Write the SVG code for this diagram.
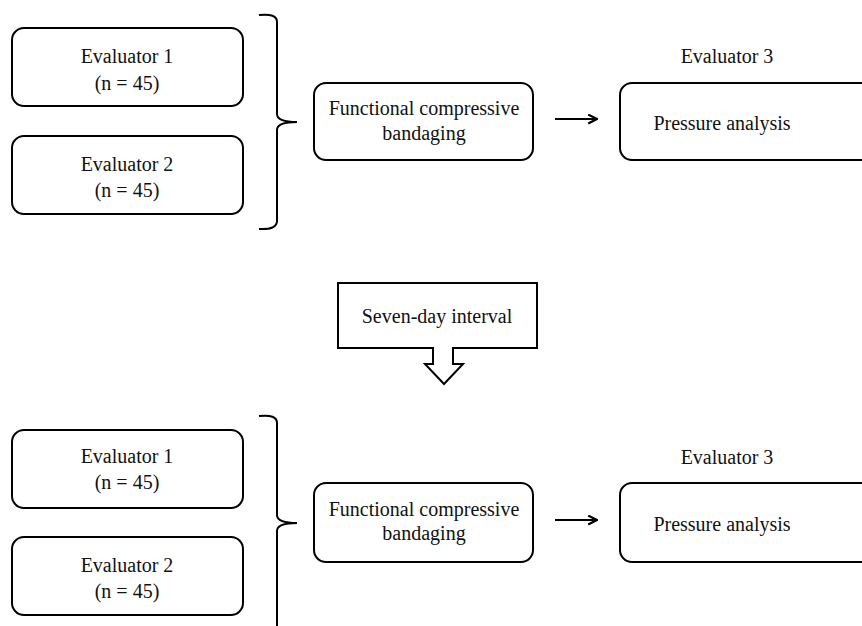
<svg xmlns="http://www.w3.org/2000/svg" width="862" height="626" viewBox="0 0 862 626">
<style>
.box{fill:#fff;stroke:#000;stroke-width:2}
.ln{fill:none;stroke:#000;stroke-width:2}
text{font-family:"Liberation Serif","Times New Roman",serif;font-size:20px;fill:#111;text-anchor:middle}
</style>
<defs>
<marker id="ah" viewBox="0 0 10 10" refX="9" refY="5" markerWidth="11" markerHeight="11" markerUnits="userSpaceOnUse" orient="auto">
<path d="M1,1 L9,5 L1,9" fill="none" stroke="#000" stroke-width="2"/>
</marker>
</defs>
<rect width="862" height="626" fill="#fff"/>
<g id="top-eval1"><rect class="box" x="12" y="28" width="231" height="78" rx="12"/><text x="127" y="63">Evaluator 1</text><text x="127" y="90">(n = 45)</text></g>
<g id="top-eval2"><rect class="box" x="12" y="136" width="231" height="78" rx="12"/><text x="127" y="171">Evaluator 2</text><text x="127" y="197">(n = 45)</text></g>
<g id="top-fcb"><rect class="box" x="314" y="83" width="219" height="77" rx="12"/><text x="424" y="115">Functional compressive</text><text x="424" y="140">bandaging</text></g>
<g id="top-eval3"><text x="727" y="63">Evaluator 3</text></g>
<g id="top-pa"><rect class="box" x="620" y="83" width="260" height="77" rx="12"/><text x="722" y="130">Pressure analysis</text></g>
<g id="interval"><path class="box" d="M338,283 H537 V348 H453 V364 H463 L444,384 L425,364 H433 V348 H338 Z"/><text x="437" y="323">Seven-day interval</text></g>
<g id="bot-eval1"><rect class="box" x="12" y="430" width="231" height="78" rx="12"/><text x="127" y="463">Evaluator 1</text><text x="127" y="489">(n = 45)</text></g>
<g id="bot-eval2"><rect class="box" x="12" y="537" width="231" height="78" rx="12"/><text x="127" y="572">Evaluator 2</text><text x="127" y="598">(n = 45)</text></g>
<g id="bot-fcb"><rect class="box" x="314" y="483" width="219" height="79" rx="12"/><text x="424" y="516">Functional compressive</text><text x="424" y="540">bandaging</text></g>
<g id="bot-eval3"><text x="727" y="464">Evaluator 3</text></g>
<g id="bot-pa"><rect class="box" x="620" y="483" width="260" height="79" rx="12"/><text x="722" y="531">Pressure analysis</text></g>
<g id="connectors">
<path class="ln" d="M259,15 Q277,13 277,22 V114 Q277,122 297,122 Q277,122 277,130 V221 Q277,230 259,229"/>
<path class="ln" d="M259,416 Q277,414 277,423 V515 Q277,523 297,523 Q277,523 277,531 V640"/>
<line class="ln" x1="555" y1="119" x2="597" y2="119" marker-end="url(#ah)"/>
<line class="ln" x1="555" y1="520" x2="597" y2="520" marker-end="url(#ah)"/>
</g>
</svg>
